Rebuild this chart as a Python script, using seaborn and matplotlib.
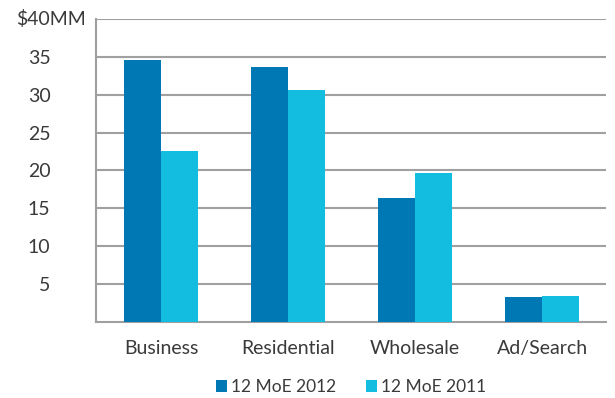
import matplotlib
matplotlib.use("Agg")
import matplotlib.pyplot as plt
import seaborn as sns
import pandas as pd

categories = ["Business", "Residential", "Wholesale", "Ad/Search"]
series_names = ["12 MoE 2012", "12 MoE 2011"]
values_2012 = [34.6, 33.6, 16.4, 3.2]
values_2011 = [22.6, 30.6, 19.6, 3.4]
yticks = [5, 10, 15, 20, 25, 30, 35, 40]
ytick_labels = ["5", "10", "15", "20", "25", "30", "35", ""]
top_label = "$40MM"

df = pd.DataFrame({
    "category": categories * 2,
    "series": [series_names[0]] * 4 + [series_names[1]] * 4,
    "value": values_2012 + values_2011,
})

sns.set_theme(style="white")
plt.rcParams["font.family"] = ["Lato", "DejaVu Sans"]

text_color = "#3a3a3a"
grid_color = "#a0a0a0"
palette = {series_names[0]: "#0078B3", series_names[1]: "#12BDE0"}

fig = plt.figure(figsize=(6.15, 3.98), dpi=100)
ax = fig.add_axes([0.1566, 0.1917, 0.8284, 0.7606])

sns.barplot(data=df, x="category", y="value", hue="series", palette=palette,
            width=0.58, gap=0, saturation=1, ax=ax, legend=True, zorder=3,
            linewidth=0)

ax.set_xlim(-0.51, 3.5)
ax.set_ylim(0, 40)
ax.set_yticks(yticks)
ax.set_yticklabels(ytick_labels)
ax.set_xlabel("")
ax.set_ylabel("")

ax.yaxis.grid(True, color=grid_color, linewidth=1.5, zorder=0)
ax.set_axisbelow(True)
for s in ["top", "right"]:
    ax.spines[s].set_visible(False)
for s in ["left", "bottom"]:
    ax.spines[s].set_color(grid_color)
    ax.spines[s].set_linewidth(1.5)

ax.tick_params(axis="y", length=0, pad=33, labelsize=14, labelcolor=text_color)
ax.tick_params(axis="x", length=0, pad=13, labelsize=14, labelcolor=text_color)

ax.annotate(top_label, xy=(0, 40), xycoords=("axes fraction", "data"),
            xytext=(-10, 0), textcoords="offset pixels",
            ha="right", va="center", fontsize=14, color=text_color)

leg = ax.legend(loc="center", bbox_to_anchor=(0.5, -0.216), ncol=2,
                frameon=False, fontsize=12.5, handlelength=0.63, handleheight=0.63,
                handletextpad=0.25, columnspacing=1.72, borderaxespad=0)
for t in leg.get_texts():
    t.set_color(text_color)

fig.savefig("out.png", dpi=100)
